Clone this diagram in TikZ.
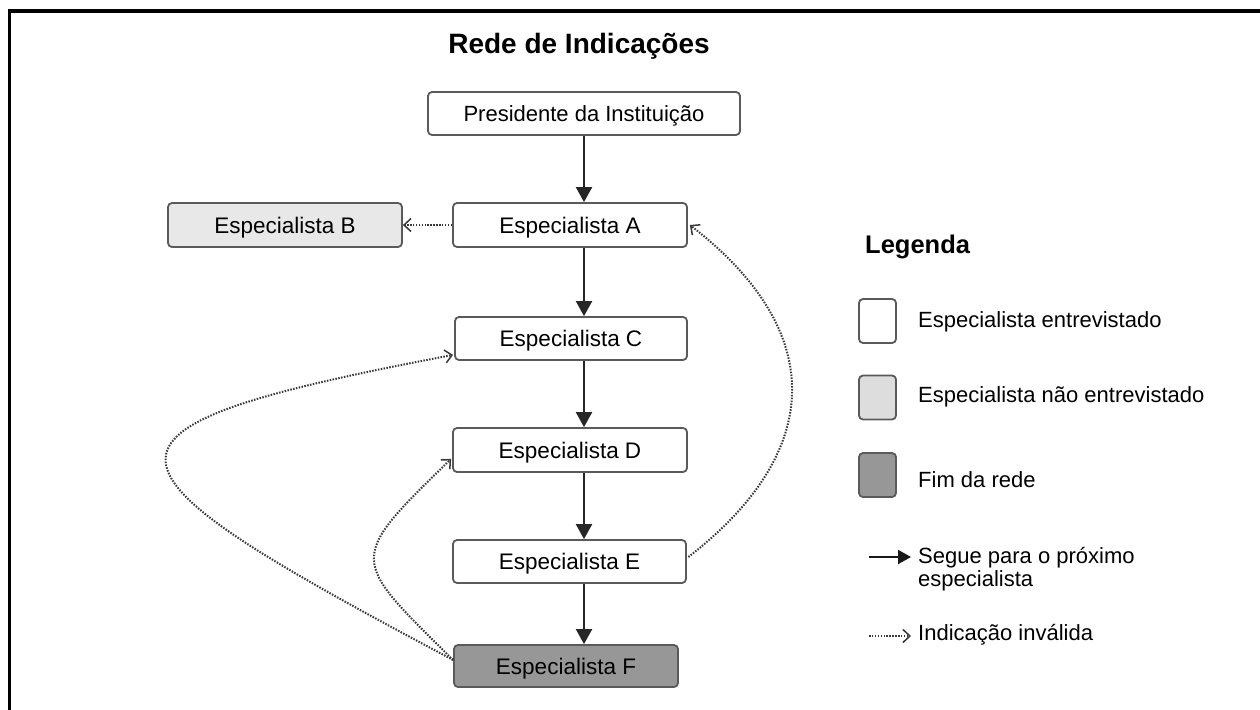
\documentclass[tikz,border=0pt]{standalone}
\usepackage{fontspec}
\setmainfont{Liberation Sans}
\usetikzlibrary{arrows.meta,calc}
\definecolor{boxline}{HTML}{5A5A5A}
\definecolor{lightfill}{HTML}{E8E8E8}
\definecolor{legfill}{HTML}{DDDDDD}
\definecolor{darkfill}{HTML}{979797}
\begin{document}
\begin{tikzpicture}[x=1pt,y=-1pt,
  stepbox/.style={draw=boxline, line width=1.8pt, rounded corners=4pt,
    minimum height=43pt, inner sep=0pt, text height=16pt, text depth=0pt,
    font=\fontsize{22.5}{23}\selectfont},
  legbox/.style={draw=boxline, line width=1.8pt, rounded corners=4pt,
    minimum width=37pt, minimum height=44pt, inner sep=0pt},
  legtext/.style={anchor=base west, inner sep=0pt, font=\fontsize{22}{23}\selectfont},
  solidarrow/.style={line width=2pt, draw=black!85, -{Triangle[length=15pt,width=16pt]}},
  dotarrow/.style={line width=2pt, draw=black!78, dash pattern=on 1.5pt off 1.4pt,
    -{Straight Barb[length=7pt,width=13pt,line width=1.5pt]}}
]
\useasboundingbox (0,0) rectangle (1260,709);
\fill[white] (0,0) rectangle (1260,709);
% frame
\draw[line width=3.5pt] (1262,11) -- (9.5,11) -- (9.5,712);

% title
\node[font=\fontsize{28}{30}\selectfont\bfseries, inner sep=0pt, anchor=base] (title) at (579,53) {Rede de Indicações};

% boxes
\node[stepbox, minimum width=312pt, minimum height=43pt, font=\fontsize{22}{23}\selectfont] (P) at (584,113.5) {Presidente da Instituição};
\node[stepbox, minimum width=234pt, minimum height=44pt] (A) at (570,225) {Especialista A};
\node[stepbox, minimum width=234pt, minimum height=44pt, fill=lightfill] (B) at (285,225) {Especialista B};
\node[stepbox, minimum width=232pt] (C) at (571,338.5) {Especialista C};
\node[stepbox, minimum width=234pt, minimum height=44pt] (D) at (570,450) {Especialista D};
\node[stepbox, minimum width=233pt] (E) at (569.5,561.5) {Especialista E};
\node[stepbox, minimum width=224pt, minimum height=42pt, fill=darkfill] (F) at (566,666) {Especialista F};

% solid arrows
\draw[solidarrow] (P.south) -- (P.south |- A.north);
\draw[solidarrow] (P.south |- A.south) -- (P.south |- C.north);
\draw[solidarrow] (P.south |- C.south) -- (P.south |- D.north);
\draw[solidarrow] (P.south |- D.south) -- (P.south |- E.north);
\draw[solidarrow] (P.south |- E.south) -- (P.south |- F.north);

% dotted arrows
\draw[dotarrow] (A.west) -- (B.east);
\draw[dotarrow] ($(E.east)+(1.5,-4.5)$) .. controls +(138,-107) and +(136,105) .. ($(A.east)+(2,0)$);
\draw[dotarrow] ($(F.west)+(0,-6)$) .. controls +(-371,-197) and +(-395,75) .. ($(C.south west)+(-1,-6)$);
\draw[dotarrow] ($(F.west)+(0,-6)$) .. controls +(-103,-102) and +(-105,102) .. ($(D.south west)+(-1,-14)$);

% legend
\node[anchor=base west, inner sep=0pt, font=\fontsize{25.5}{27}\selectfont\bfseries] (leg) at (865,253) {Legenda};
\node[legbox] (L1) at (877.5,321) {};
\node[legbox, fill=legfill] (L2) at (877.5,397.5) {};
\node[legbox, fill=darkfill] (L3) at (877.5,475) {};
\node[legtext] (T1) at (918,327) {Especialista entrevistado};
\node[legtext] (T2) at (918,402) {Especialista não entrevistado};
\node[legtext] (T3) at (918,487) {Fim da rede};
\coordinate (s1) at (869,557);
\coordinate (s2) at (911,557);
\draw[line width=2pt, draw=black!90, -{Triangle[length=13pt,width=14pt]}] (s1) -- (s2);
\node[legtext] (T4) at (918,563) {Segue para o próximo};
\node[legtext] (T5) at (918,586) {especialista};
\coordinate (d1) at (869,636);
\coordinate (d2) at (911,636);
\draw[dotarrow] (d1) -- (d2);
\node[legtext] (T6) at (918,640) {Indicação inválida};
\end{tikzpicture}
\end{document}
